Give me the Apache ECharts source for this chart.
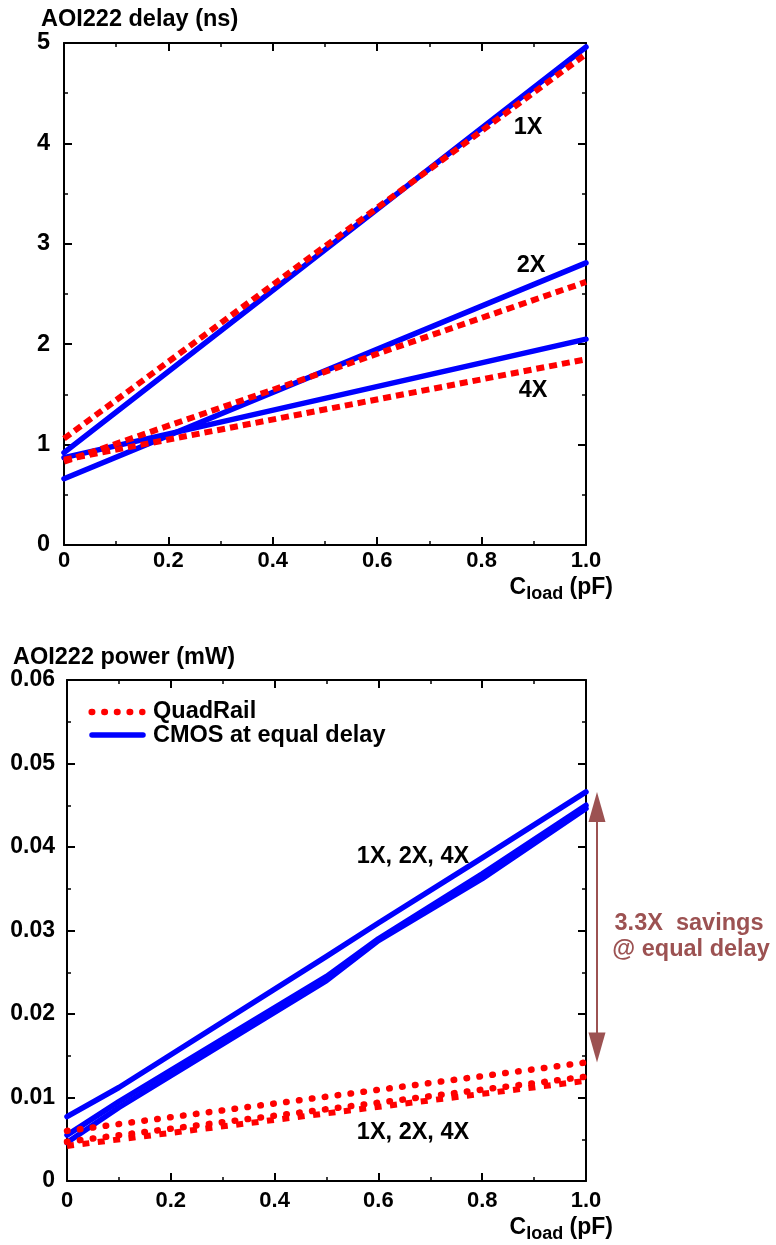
<!DOCTYPE html>
<html>
<head>
<meta charset="utf-8">
<script src="https://cdn.jsdelivr.net/npm/echarts@6/dist/echarts.min.js"></script>
<style>
  html, body { margin: 0; padding: 0; background: #ffffff; }
  #chart { width: 776px; height: 1245px; }
</style>
</head>
<body>
<div id="chart"></div>
<script>
// Load capacitance sample points (pF)
const cload = [0, 1.0];
const cloadFine = [0, 0.1, 0.5, 0.6, 0.8, 1.0];

// AOI222 delay (ns): QuadRail vs CMOS sized for equal delay
const delayQuad1X = [1.06, 4.89];
const delayQuad2X = [0.83, 2.62];
const delayQuad4X = [0.85, 1.85];
const delayCmos1X = [0.92, 4.96];
const delayCmos2X = [0.66, 2.81];
const delayCmos4X = [0.87, 2.05];

// AOI222 power (mW)
const powerQuad1X = [0.0060, 0.0142];
const powerQuad2X = [0.0047, 0.0125];
const powerQuad4X = [0.0042, 0.0120];
const powerCmos1X = [0.0077, 0.0112, 0.0269, 0.0309, 0.0387, 0.0466];
const powerCmos2X = [0.0055, 0.0095, 0.0245, 0.0290, 0.0368, 0.0450];
const powerCmos4X = [0.0046, 0.0088, 0.0240, 0.0288, 0.0362, 0.0446];

// Tick labels
const xTickLabels = ['0', '0.2', '0.4', '0.6', '0.8', '1.0'];
const delayTickLabels = ['0', '1', '2', '3', '4', '5'];
const powerTickLabels = ['0', '0.01', '0.02', '0.03', '0.04', '0.05', '0.06'];

const FONT = "'Liberation Sans', Arial, Helvetica, sans-serif";
const RED = '#ff0000';
const BLUE = '#0000ff';
const BROWN = '#9c5252';
const TXT = 23.5;

const pairs = (xs, ys) => xs.map((x, i) => [x, ys[i]]);

const dashed = { color: RED, width: 6, type: [8, 5], cap: 'butt' };
const dotted = { color: RED, width: 6.5, type: [0.5, 12.5], cap: 'round' };
const squares = { color: RED, width: 6, type: [7, 8.5], cap: 'butt' };
const solid = { color: BLUE, width: 5.5, type: 'solid', cap: 'round', join: 'round' };

function line(name, data, style, xi, yi) {
  return {
    name, type: 'line', data, xAxisIndex: xi, yAxisIndex: yi,
    showSymbol: false, symbol: 'none', lineStyle: style, silent: true,
    animation: false, z: style.color === BLUE ? 3 : 4
  };
}

function valueAxis(opts) {
  const base = {
    type: 'value',
    axisLine: { show: true, onZero: false, lineStyle: { color: '#000', width: 2 } },
    axisTick: { show: true, inside: true, length: 8, lineStyle: { color: '#000', width: 2 } },
    minorTick: { show: true, splitNumber: 2, length: 4, lineStyle: { color: '#000', width: 1.5 } },
    splitLine: { show: false },
    axisLabel: { show: false }
  };
  return Object.assign(base, opts);
}

const tickLabel = (size, margin, labels, step, padding) => ({
  show: true, color: '#000', fontWeight: 'bold', fontSize: size, fontFamily: FONT,
  margin, padding: padding || 0, formatter: v => labels[Math.round(v / step)]
});

const option = {
  backgroundColor: '#ffffff',
  animation: false,
  title: [
    { text: 'AOI222 delay (ns)', left: 36, top: 3,
      textStyle: { fontSize: TXT, fontWeight: 'bold', fontFamily: FONT, color: '#000' } },
    { text: 'AOI222 power (mW)', left: 8, top: 641,
      textStyle: { fontSize: TXT, fontWeight: 'bold', fontFamily: FONT, color: '#000' } }
  ],
  grid: [
    { left: 64, top: 43, width: 522, height: 502, outerBoundsMode: 'none', containLabel: false },
    { left: 67, top: 680, width: 519, height: 501, outerBoundsMode: 'none', containLabel: false }
  ],
  xAxis: [
    valueAxis({ gridIndex: 0, position: 'bottom', min: 0, max: 1, interval: 0.2,
      axisLabel: tickLabel(22, 5, xTickLabels, 0.2) }),
    valueAxis({ gridIndex: 0, position: 'top', min: 0, max: 1, interval: 0.2 }),
    valueAxis({ gridIndex: 1, position: 'bottom', min: 0, max: 1, interval: 0.2,
      axisLabel: tickLabel(22, 9, xTickLabels, 0.2) }),
    valueAxis({ gridIndex: 1, position: 'top', min: 0, max: 1, interval: 0.2 })
  ],
  yAxis: [
    valueAxis({ gridIndex: 0, position: 'left', min: 0, max: 5, interval: 1,
      axisLabel: tickLabel(TXT, 14, delayTickLabels, 1, [8, 0, 0, 0]) }),
    valueAxis({ gridIndex: 0, position: 'right', min: 0, max: 5, interval: 1 }),
    valueAxis({ gridIndex: 1, position: 'left', min: 0, max: 0.06, interval: 0.01,
      axisLabel: tickLabel(23, 12, powerTickLabels, 0.01) }),
    valueAxis({ gridIndex: 1, position: 'right', min: 0, max: 0.06, interval: 0.01 })
  ],
  series: [
    line('CMOS 1X delay', pairs(cload, delayCmos1X), solid, 0, 0),
    line('CMOS 2X delay', pairs(cload, delayCmos2X), solid, 0, 0),
    line('CMOS 4X delay', pairs(cload, delayCmos4X), solid, 0, 0),
    line('QuadRail 1X delay', pairs(cload, delayQuad1X), dashed, 0, 0),
    line('QuadRail 2X delay', pairs(cload, delayQuad2X), dashed, 0, 0),
    line('QuadRail 4X delay', pairs(cload, delayQuad4X), dashed, 0, 0),

    line('CMOS 1X power', pairs(cloadFine, powerCmos1X), solid, 2, 2),
    line('CMOS 2X power', pairs(cloadFine, powerCmos2X), solid, 2, 2),
    line('CMOS 4X power', pairs(cloadFine, powerCmos4X), solid, 2, 2),
    line('QuadRail 1X power', pairs(cload, powerQuad1X), dotted, 2, 2),
    line('QuadRail 2X power', pairs(cload, powerQuad2X), dotted, 2, 2),
    line('QuadRail 4X power', pairs(cload, powerQuad4X), squares, 2, 2)
  ]
};

const chart = echarts.init(document.getElementById('chart'), null, { renderer: 'canvas' });
chart.setOption(option);

// Text helpers for annotations
function label(text, x, y, opts) {
  return {
    type: 'text', x, y, silent: true, z: 10,
    style: Object.assign({
      text, fill: '#000', font: 'bold ' + TXT + 'px ' + FONT, align: 'center', verticalAlign: 'middle'
    }, opts || {})
  };
}

function axisTitle(y) {
  return {
    type: 'text', x: 613, y, silent: true, z: 10,
    style: {
      text: '{c|C}{s|load}{c| (pF)}', align: 'right', verticalAlign: 'middle',
      rich: {
        c: { font: 'bold 23px ' + FONT, fill: '#000', verticalAlign: 'middle' },
        s: { font: 'bold 18px ' + FONT, fill: '#000', padding: [12, 0, 0, 0], verticalAlign: 'middle' }
      }
    }
  };
}

// Savings arrow spans CMOS and QuadRail power at the largest load
const last = cload.length - 1;
const lastFine = cloadFine.length - 1;
const pTop = chart.convertToPixel({ xAxisIndex: 2, yAxisIndex: 2 }, [cloadFine[lastFine], powerCmos1X[lastFine]]);
const pBot = chart.convertToPixel({ xAxisIndex: 2, yAxisIndex: 2 }, [cload[last], powerQuad1X[last]]);
const ax = pTop[0] + 11;
const headLen = 30, headHalf = 8.5;

const graphics = [
  label('1X', 528, 128),
  label('2X', 531, 266),
  label('4X', 533, 391),
  label('1X, 2X, 4X', 413, 857),
  label('1X, 2X, 4X', 413, 1133),
  axisTitle(588),
  axisTitle(1228),

  // Legend
  { type: 'line', silent: true, z: 10,
    shape: { x1: 91.7, y1: 712, x2: 142.3, y2: 712 },
    style: { stroke: RED, lineWidth: 6.5, lineDash: [0.5, 12.15], lineCap: 'round' } },
  label('QuadRail', 153, 712, { align: 'left' }),
  { type: 'line', silent: true, z: 10,
    shape: { x1: 92, y1: 735, x2: 143, y2: 735 },
    style: { stroke: BLUE, lineWidth: 5.5, lineCap: 'round' } },
  label('CMOS at equal delay', 153, 736, { align: 'left' }),

  // Arrow
  { type: 'line', silent: true, z: 10,
    shape: { x1: ax, y1: pTop[1] + headLen - 2, x2: ax, y2: pBot[1] - headLen + 2 },
    style: { stroke: BROWN, lineWidth: 2 } },
  { type: 'polygon', silent: true, z: 10,
    shape: { points: [[ax, pTop[1]], [ax - headHalf, pTop[1] + headLen], [ax + headHalf, pTop[1] + headLen]] },
    style: { fill: BROWN } },
  { type: 'polygon', silent: true, z: 10,
    shape: { points: [[ax, pBot[1]], [ax - headHalf, pBot[1] - headLen], [ax + headHalf, pBot[1] - headLen]] },
    style: { fill: BROWN } },
  label('3.3X  savings', 689, 924, { fill: BROWN }),
  label('@ equal delay', 691, 950, { fill: BROWN })
];

chart.setOption({ graphic: graphics });
</script>
</body>
</html>
